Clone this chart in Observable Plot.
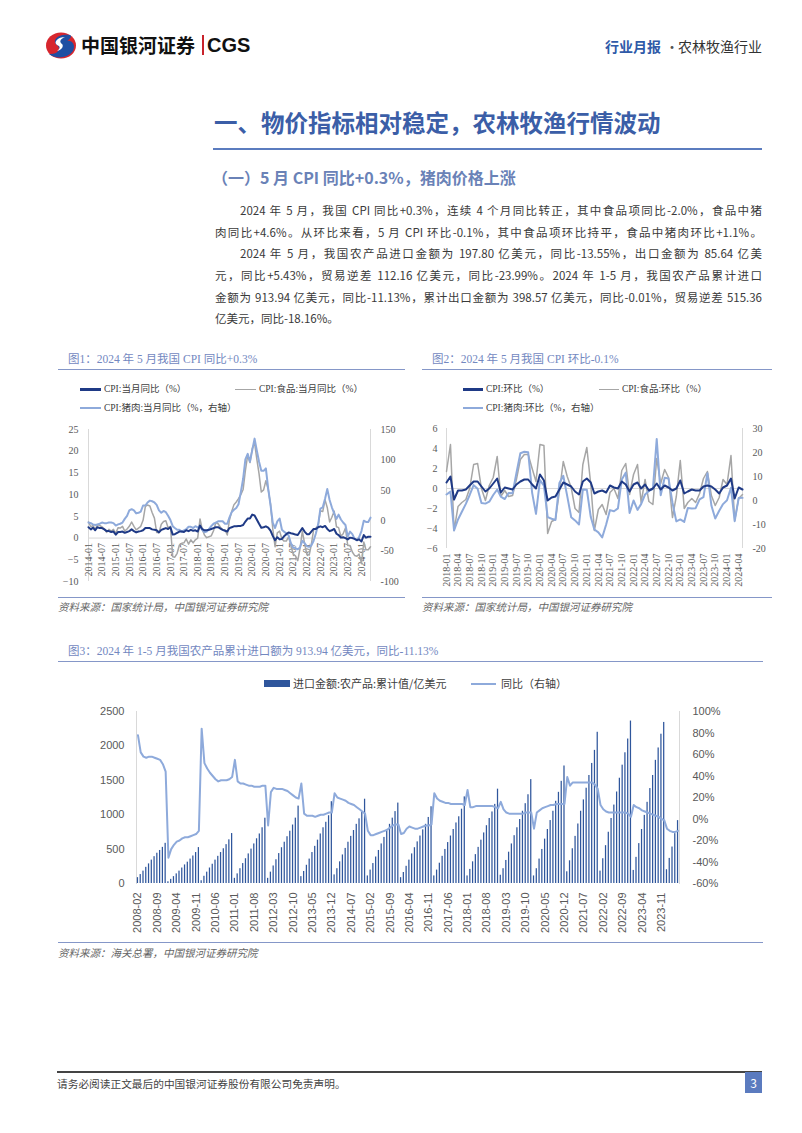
<!DOCTYPE html>
<html lang="zh-CN">
<head>
<meta charset="utf-8">
<script src="https://cdn.jsdelivr.net/npm/d3@7"></script>
<script src="https://cdn.jsdelivr.net/npm/@observablehq/plot@0.6"></script>
<style>
html,body{margin:0;padding:0;background:#fff;}
#page{position:relative;width:802px;height:1133px;overflow:hidden;background:#fff;font-family:"Noto Sans CJK SC","Noto Sans",sans-serif;color:#333;}
.a{position:absolute;white-space:nowrap;}
.para{position:absolute;font-size:11.5px;line-height:20px;height:20px;color:#3a3a3a;white-space:nowrap;text-align:justify;text-align-last:justify;}
.ctitle{position:absolute;font-family:"Liberation Serif","Noto Sans CJK SC",serif;font-size:11.5px;line-height:16px;color:#7388bf;}
.hr{position:absolute;height:1px;background:#8597c8;}
.src{position:absolute;font-size:10.5px;line-height:14px;color:#666;font-style:italic;}
.lg{position:absolute;font-family:"Liberation Serif","Noto Sans CJK SC",serif;font-size:9.5px;line-height:12px;color:#404040;}
.sw{position:absolute;}
.chart{position:absolute;}
</style>
</head>
<body>
<div id="page">
  <!-- header -->
  <svg class="a" style="left:45px;top:32px" width="32" height="27" viewBox="0 0 32 27">
    <ellipse cx="16" cy="13.5" rx="15" ry="13" fill="#d7262e"/>
    <path d="M25 3 C 14 1, 6 8, 12 13 C 17 17, 12 23, 4 22 C 10 27, 22 27, 28 19 C 31 13, 27 8, 22 9 C 26 6, 27 4, 25 3 Z" fill="#1f4fa3"/>
    <path d="M12 13 C 8 10, 13 5, 20 5 C 15 7, 14 10, 17 12 C 19 14, 17 18, 12 19 C 16 16, 15 14, 12 13 Z" fill="#fff"/>
  </svg>
  <div class="a" style="left:81px;top:33px;font-size:19px;line-height:24px;font-weight:700;color:#111;">中国银河证券</div>
  <div class="a" style="left:202px;top:35px;width:2px;height:20px;background:#c8232b;"></div>
  <div class="a" style="left:207px;top:33px;font-family:'Liberation Sans',Arial,sans-serif;font-size:20px;line-height:24px;font-weight:700;color:#111;">CGS</div>
  <div class="a" style="left:605px;top:36px;font-size:14px;line-height:20px;color:#2f5aa8;font-weight:700;">行业月报</div>
  <div class="a" style="left:665px;top:36px;font-size:14px;line-height:20px;color:#555;">·</div>
  <div class="a" style="left:678px;top:36px;font-size:14px;line-height:20px;color:#333;">农林牧渔行业</div>

  <!-- section title -->
  <div class="a" style="left:214px;top:106px;font-size:23.5px;line-height:32px;font-weight:700;color:#3b5ea7;">一、物价指标相对稳定，农林牧渔行情波动</div>
  <div class="a" style="left:213px;top:148px;width:549px;height:2px;background:#5b7cbf;"></div>
  <div class="a" style="left:212px;top:165px;font-size:16px;line-height:24px;font-weight:700;color:#6a82b7;">（一）5 月 CPI 同比+0.3%，猪肉价格上涨</div>

  <!-- paragraph -->
  <div class="para" style="left:240px;width:522px;top:200px;">2024 年 5 月，我国 CPI 同比+0.3%，连续 4 个月同比转正，其中食品项同比-2.0%，食品中猪</div>
  <div class="para" style="left:215px;width:547px;top:222px;">肉同比+4.6%。从环比来看，5 月 CPI 环比-0.1%，其中食品项环比持平，食品中猪肉环比+1.1%。</div>
  <div class="para" style="left:240px;width:522px;top:243px;">2024 年 5 月，我国农产品进口金额为 197.80 亿美元，同比-13.55%，出口金额为 85.64 亿美</div>
  <div class="para" style="left:215px;width:547px;top:265px;">元，同比+5.43%，贸易逆差 112.16 亿美元，同比-23.99%。2024 年 1-5 月，我国农产品累计进口</div>
  <div class="para" style="left:215px;width:547px;top:287px;">金额为 913.94 亿美元，同比-11.13%，累计出口金额为 398.57 亿美元，同比-0.01%，贸易逆差 515.36</div>
  <div class="para" style="left:215px;width:547px;top:308px;text-align:left;text-align-last:left;">亿美元，同比-18.16%。</div>

  <!-- chart 1 frame -->
  <div class="ctitle" style="left:68px;top:351px;">图1：2024 年 5 月我国 CPI 同比+0.3%</div>
  <div class="hr" style="left:58px;top:369px;width:347px;"></div>
  <div class="sw" style="left:80px;top:388px;width:21px;height:2.5px;background:#1f3a86;"></div>
  <div class="lg" style="left:104px;top:383px;">CPI:当月同比（%）</div>
  <div class="sw" style="left:235px;top:388.5px;width:21px;height:1.5px;background:#a6a6a6;"></div>
  <div class="lg" style="left:259px;top:383px;">CPI:食品:当月同比（%）</div>
  <div class="sw" style="left:80px;top:407px;width:21px;height:2px;background:#8eaadb;"></div>
  <div class="lg" style="left:104px;top:402px;">CPI:猪肉:当月同比（%，右轴）</div>
  <div id="c1" class="chart" style="left:30px;top:420px;"></div>
  <div class="hr" style="left:58px;top:597px;width:347px;"></div>
  <div class="src" style="left:58px;top:600px;">资料来源：国家统计局，中国银河证券研究院</div>

  <!-- chart 2 frame -->
  <div class="ctitle" style="left:432px;top:351px;">图2：2024 年 5 月我国 CPI 环比-0.1%</div>
  <div class="hr" style="left:422px;top:369px;width:350px;"></div>
  <div class="sw" style="left:463px;top:388px;width:20px;height:2.5px;background:#1f3a86;"></div>
  <div class="lg" style="left:486px;top:383px;">CPI:环比（%）</div>
  <div class="sw" style="left:599px;top:388.5px;width:20px;height:1.5px;background:#a6a6a6;"></div>
  <div class="lg" style="left:622px;top:383px;">CPI:食品:环比（%）</div>
  <div class="sw" style="left:463px;top:407px;width:20px;height:2px;background:#8eaadb;"></div>
  <div class="lg" style="left:486px;top:402px;">CPI:猪肉:环比（%，右轴）</div>
  <div id="c2" class="chart" style="left:410px;top:420px;"></div>
  <div class="hr" style="left:422px;top:597px;width:350px;"></div>
  <div class="src" style="left:422px;top:600px;">资料来源：国家统计局，中国银河证券研究院</div>

  <!-- chart 3 frame -->
  <div class="ctitle" style="left:68px;top:643px;">图3：2024 年 1-5 月我国农产品累计进口额为 913.94 亿美元，同比-11.13%</div>
  <div class="hr" style="left:58px;top:661px;width:705px;"></div>
  <div class="sw" style="left:264px;top:680px;width:26px;height:7px;background:#2f569c;"></div>
  <div class="a" style="left:293px;top:675px;font-size:11px;line-height:16px;color:#404040;">进口金额:农产品:累计值/亿美元</div>
  <div class="sw" style="left:471px;top:682.5px;width:25px;height:2px;background:#8eaadb;"></div>
  <div class="a" style="left:501px;top:675px;font-size:11px;line-height:16px;color:#404040;">同比（右轴）</div>
  <div id="c3" class="chart" style="left:30px;top:700px;"></div>
  <div class="hr" style="left:58px;top:942px;width:705px;"></div>
  <div class="src" style="left:58px;top:946px;">资料来源：海关总署，中国银河证券研究院</div>

  <!-- footer -->
  <div class="a" style="left:57px;top:1071px;width:705px;height:1.5px;background:#444;"></div>
  <div class="a" style="left:57px;top:1076px;font-size:10.7px;line-height:16px;color:#444;">请务必阅读正文最后的中国银河证券股份有限公司免责声明。</div>
  <div class="a" style="left:745px;top:1072px;width:17px;height:21px;background:#5b7bbf;color:#fff;font-size:12px;line-height:21px;text-align:center;">3</div>
</div>

<script>
// ---------------- data: Chart 1 (monthly YoY, 2014-01 .. 2024-05) ----------------
const cpiYoY = [
  2.5,2.0,2.4,1.8,2.5,2.3,2.3,2.0,1.6,1.6,1.4,1.5,
  0.8,1.4,1.4,1.5,1.2,1.4,1.6,2.0,1.6,1.3,1.5,1.6,
  1.8,2.3,2.3,2.3,2.0,1.9,1.8,1.3,1.9,2.1,2.3,2.1,
  2.5,0.8,0.9,1.2,1.5,1.5,1.4,1.8,1.6,1.9,1.7,1.8,
  1.5,2.9,2.1,1.8,1.8,1.9,2.1,2.3,2.5,2.5,2.2,1.9,
  1.7,1.5,2.3,2.5,2.7,2.7,2.8,2.8,3.0,3.8,4.5,4.5,
  5.4,5.2,4.3,3.3,2.4,2.5,2.7,2.4,1.7,0.5,-0.5,0.2,
  -0.3,-0.2,0.4,0.9,1.3,1.1,1.0,0.8,0.7,1.5,2.3,1.5,
  0.9,0.9,1.5,2.1,2.1,2.5,2.7,2.5,2.8,2.1,1.6,1.8,
  2.1,1.0,0.7,0.1,0.2,0.0,-0.3,0.1,0.0,-0.2,-0.5,-0.3,
  -0.8,0.7,0.1,0.3,0.3
];
const foodYoY = [
  3.7,2.6,2.9,2.0,3.1,2.9,2.6,2.1,1.3,2.0,1.6,2.0,
  1.1,2.4,2.3,2.7,1.6,2.1,2.7,3.7,2.7,1.9,2.3,2.7,
  4.1,7.3,7.6,7.4,5.9,4.6,1.3,1.3,3.2,3.8,4.0,2.4,
  2.7,-4.3,-4.4,-3.5,-1.6,-1.2,-1.1,-0.2,-1.4,-0.4,-1.1,-0.4,
  0.0,4.4,2.1,0.7,0.1,0.3,0.5,1.7,3.6,3.3,2.5,1.9,
  1.9,0.7,4.1,6.1,7.7,8.3,9.1,10.0,11.2,15.5,19.1,17.4,
  20.6,21.9,18.3,14.8,10.6,11.1,13.2,11.2,7.9,2.2,-2.0,1.2,
  1.6,-0.2,-0.7,-0.7,0.3,-1.7,-3.7,-4.1,-5.2,-2.4,1.6,-1.2,
  -3.8,-3.9,-1.5,1.9,2.3,2.9,6.3,6.1,8.8,7.0,3.7,4.8,
  6.2,2.6,2.4,0.4,1.0,2.3,-1.7,-1.7,-3.2,-4.0,-4.2,-3.7,
  -5.9,-0.9,-2.7,-2.7,-2.0
];
const porkYoY = [
  -3,-4,-6,-7,-6,-5,-3,-4,-4,-3,-3,-4,
  -8,-6,-5,-3,3,8,17,19,17,12,13,15,
  25,25,30,33,32,30,26,17,13,16,14,8,
  1,-9,-12,-15,-15,-18,-16,-14,-10,-10,-12,-9,
  -11,-9,-15,-19,-18,-14,-9,-5,-3,-1,-1,-1,
  -5,-5,5,14,18,21,27,47,69,101,110,97,
  116,135,116,97,82,82,86,53,26,-3,-12,-1,
  3.5,-15,-18,-21,-24,-37,-44,-45,-47,-44,-33,-37,
  -42,-43,-41,-33,-21,-6,20,22,36,52,34,22,
  12,3,10,2,-3,-7,-26,-18,-22,-30,-32,-27,
  -17,0,-2,-2,5
];

// ---------------- data: Chart 2 (monthly MoM, 2018-01 .. 2024-05) ----------------
const cpiMoM = [
  0.6,1.2,-1.1,-0.2,-0.2,-0.1,0.3,0.7,0.7,0.2,-0.3,0.0,
  0.5,1.0,-0.4,0.1,0.0,-0.1,0.4,0.7,0.9,0.9,0.4,0.0,
  1.4,0.8,-1.2,-0.9,-0.8,-0.1,0.6,0.4,0.2,-0.3,-0.6,0.7,
  1.0,0.6,-0.5,-0.3,-0.2,-0.4,0.3,0.1,0.0,0.7,0.4,-0.3,
  0.4,0.6,0.0,0.4,-0.2,0.0,0.5,-0.1,0.3,0.1,-0.2,0.0,
  0.8,-0.5,-0.3,-0.1,-0.2,-0.2,0.2,0.3,0.2,-0.1,-0.5,0.1,
  0.3,1.0,-1.0,0.1,-0.1
];
const foodMoM = [
  1.7,4.4,-4.2,-1.8,-1.4,-1.1,0.0,2.4,2.5,0.0,-1.2,0.3,
  1.1,3.2,-0.8,-0.2,-0.8,-0.7,0.9,2.9,3.4,3.4,2.0,0.7,
  4.4,4.3,-4.5,-3.3,-3.1,-0.3,2.7,1.2,0.1,-2.0,-2.4,2.4,
  4.1,0.4,-4.2,-2.1,-1.6,-2.6,-0.4,0.0,-1.0,1.8,2.5,-0.6,
  1.4,2.4,-1.4,0.9,-1.3,-1.6,3.0,0.5,1.9,1.1,-2.9,-0.8,
  2.8,-2.0,-1.4,-1.0,-1.4,-0.5,1.0,1.7,-0.7,-1.7,-0.9,0.9,
  0.4,3.3,-3.2,-1.0,-0.6
];
const porkMoM = [
  2.5,3.7,-12.5,-7.9,-4.7,-1.4,2.3,6.4,4.9,-1.0,-1.3,-0.5,
  2.3,4.6,1.6,0.6,3.1,3.0,11.4,19.7,20.3,20.1,3.2,-5.6,
  8.5,6.2,-6.9,-7.6,-8.1,7.3,10.3,1.8,-7.0,-8.3,-10.0,4.6,
  4.5,-6.9,-12.1,-13.3,-15.4,-10.0,-4.0,-4.5,-3.3,8.7,11.6,-5.2,
  0.0,-3.9,-1.5,2.5,4.0,4.8,25.6,2.2,9.5,9.2,-0.9,-8.7,
  -7.9,-8.9,-3.1,-3.3,-3.2,0.5,1.4,11.4,-2.1,-7.5,-4.3,-1.5,
  0.1,5.3,-8.6,1.0,1.1
];

// ---------------- data: Chart 3 (monthly, 2008-02 .. 2024-05) ----------------
const importCum = [
  85,130,180,235,285,340,390,440,480,525,584,
  25,60,100,140,180,225,270,310,355,400,450,522,
  40,105,165,225,280,340,395,450,505,565,635,726,
  75,140,215,290,360,430,500,575,650,720,810,949,
  75,165,255,345,435,520,600,680,760,850,950,1125,
  100,175,265,355,450,540,630,720,810,890,985,1189,
  125,215,315,415,510,600,685,770,860,940,1040,1225,
  110,195,290,385,480,575,670,760,860,950,1045,1169,
  85,160,250,340,430,520,605,690,780,860,960,1116,
  110,195,295,395,495,595,690,785,880,970,1080,1259,
  110,205,315,420,525,630,735,840,945,1040,1150,1371,
  120,215,335,455,575,695,810,930,1050,1160,1290,1510,
  110,215,355,495,645,785,915,1050,1195,1325,1485,1708,
  170,330,505,685,865,1050,1215,1385,1570,1745,1935,2198,
  180,360,550,745,945,1140,1330,1530,1720,1900,2100,2361,
  190,380,580,785,990,1180,1380,1570,1790,1970,2170,2341,
  200,365,530,725,914
];
const importYoY = [
  78,62,58,57,58,58,57,56,55,51,44,
  -36,-28,-24,-21,-20,-18,-17,-17,-16,-15,-14,-11,
  84,52,47,43,40,37,35,36,36,36,37,39,
  55,35,33,33,32,31,31,30,30,30,31,31,
  -6,25,29,28,28,28,27,26,24,22,20,19,
  33,5,3,3,3,2,3,4,4,5,6,6,
  24,20,19,18,17,15,14,13,11,9,7,5,
  -11,-15,-15,-14,-13,-12,-11,-10,-8,-6,-5,-5,
  -14,-13,-9,-7,-8,-9,-9,-8,-7,-6,-6,-5,
  24,19,17,16,15,15,14,14,14,14,14,13,
  27,11,11,12,12,12,12,12,12,12,11,10,
  16,9,6,5,5,5,5,5,5,6,6,6,
  -9,6,8,10,11,12,13,13,14,14,14,14,
  39,31,34,34,34,34,34,34,34,34,32,28,
  13,9,7,6,6,6,6,6,6,6,5,2,
  13,11,10,8,7,6,5,4,3,2,0,-1,
  -9,-11,-12,-12,-11
];

// axis tick values
const leftTicks1 = [-10,-5,0,5,10,15,20,25];
const rightTicks1 = [-100,-50,0,50,100,150];
const leftTicks2 = [-6,-4,-2,0,2,4,6];
const rightTicks2 = [-20,-10,0,10,20,30];
const leftTicks3 = [0,500,1000,1500,2000,2500];
const rightTicks3 = [-60,-40,-20,0,20,40,60,80,100];

// ---------------- helpers ----------------
const fmtM = d3.utcFormat("%Y-%m");
const monthSeq = (y, m, n) => d3.range(n).map(i => new Date(Date.UTC(y, m - 1 + i, 1)));
const dual = (L, R) => ({
  toL: r => L[0] + (r - R[0]) * (L[1] - L[0]) / (R[1] - R[0]),
  toR: l => R[0] + (l - L[0]) * (R[1] - R[0]) / (L[1] - L[0])
});
const serifStyle = {fontFamily: '"Liberation Serif", serif', fontSize: "10px", color: "#595959", background: "none", overflow: "visible"};
const NAVY = "#1f3a86", GRAY = "#a6a6a6", LBLUE = "#8eaadb", AXIS = "#d9d9d9";

// ---------------- Chart 1 ----------------
{
  const L = [-10, 25], R = [-100, 150], t = dual(L, R);
  const m = monthSeq(2014, 1, cpiYoY.length);
  const rows = m.map((d, i) => ({d, cpi: cpiYoY[i], food: foodYoY[i], pork: porkYoY[i]}));
  const ticks = m.filter((d, i) => i % 6 === 0);
  const chart = Plot.plot({
    width: 375, height: 170,
    marginLeft: 58, marginRight: 35, marginTop: 9, marginBottom: 9,
    style: serifStyle,
    x: {type: "utc", domain: [m[0], m[m.length - 1]], axis: null},
    y: {domain: L, axis: null},
    marks: [
      Plot.ruleY([0], {stroke: AXIS}),
      Plot.ruleX([m[0]], {stroke: AXIS}),
      Plot.ruleX([m[m.length - 1]], {stroke: AXIS}),
      Plot.axisY({anchor: "left", ticks: leftTicks1, tickSize: 0, tickPadding: 10, label: null}),
      Plot.axisY({anchor: "right", ticks: rightTicks1.map(t.toL), tickFormat: l => String(Math.round(t.toR(l))), tickSize: 0, tickPadding: 10, label: null}),
      Plot.text(ticks, {x: d => d, y: () => 0, text: d => fmtM(d), rotate: -90, textAnchor: "end", dy: 5, fill: "#595959"}),
      Plot.line(rows, {x: "d", y: "food", stroke: GRAY, strokeWidth: 1.5}),
      Plot.line(rows, {x: "d", y: d => t.toL(d.pork), stroke: LBLUE, strokeWidth: 2}),
      Plot.line(rows, {x: "d", y: "cpi", stroke: NAVY, strokeWidth: 2})
    ]
  });
  document.getElementById("c1").append(chart);
}

// ---------------- Chart 2 ----------------
{
  const L = [-6, 6], R = [-20, 30], t = dual(L, R);
  const m = monthSeq(2018, 1, cpiMoM.length);
  const rows = m.map((d, i) => ({d, cpi: cpiMoM[i], food: foodMoM[i], pork: porkMoM[i]}));
  const ticks = m.filter((d, i) => i % 3 === 0);
  const chart = Plot.plot({
    width: 375, height: 175,
    marginLeft: 36, marginRight: 43, marginTop: 8, marginBottom: 47,
    style: serifStyle,
    x: {type: "utc", domain: [m[0], m[m.length - 1]], axis: null},
    y: {domain: L, axis: null},
    marks: [
      Plot.ruleY([0], {stroke: AXIS}),
      Plot.ruleX([m[0]], {stroke: AXIS}),
      Plot.ruleX([m[m.length - 1]], {stroke: AXIS}),
      Plot.axisY({anchor: "left", ticks: leftTicks2, tickSize: 0, tickPadding: 9, label: null}),
      Plot.axisY({anchor: "right", ticks: rightTicks2.map(t.toL), tickFormat: l => String(Math.round(t.toR(l))), tickSize: 0, tickPadding: 10, label: null}),
      Plot.axisX({anchor: "bottom", ticks: ticks, tickFormat: fmtM, tickRotate: -90, tickSize: 0, tickPadding: 5, label: null}),
      Plot.line(rows, {x: "d", y: "food", stroke: GRAY, strokeWidth: 1.5}),
      Plot.line(rows, {x: "d", y: d => t.toL(d.pork), stroke: LBLUE, strokeWidth: 2}),
      Plot.line(rows, {x: "d", y: "cpi", stroke: NAVY, strokeWidth: 2})
    ]
  });
  document.getElementById("c2").append(chart);
}

// ---------------- Chart 3 ----------------
{
  const L = [0, 2500], R = [-60, 100], t = dual(L, R);
  const labels = monthSeq(2008, 2, importCum.length).map(fmtM);
  const rows = labels.map((m, i) => ({m, v: importCum[i], yoy: importYoY[i]}));
  const ticks = labels.filter((d, i) => i % 7 === 0);
  const chart = Plot.plot({
    width: 740, height: 240,
    marginLeft: 106, marginRight: 91, marginTop: 11, marginBottom: 57,
    style: {fontFamily: '"Liberation Sans Narrow", "Liberation Sans", sans-serif', fontSize: "11px", color: "#595959", background: "none", overflow: "visible"},
    x: {type: "band", domain: labels, paddingInner: 0.55, paddingOuter: 0.3, axis: null},
    y: {domain: L, axis: null},
    marks: [
      Plot.frame({anchor: "left", stroke: AXIS}),
      Plot.frame({anchor: "right", stroke: AXIS}),
      Plot.axisY({anchor: "left", ticks: leftTicks3, tickFormat: d3.format("d"), tickSize: 0, tickPadding: 12, label: null}),
      Plot.axisY({anchor: "right", ticks: rightTicks3.map(t.toL), tickFormat: l => Math.round(t.toR(l)) + "%", tickSize: 0, tickPadding: 13, label: null}),
      Plot.axisX({anchor: "bottom", ticks: ticks, tickRotate: -90, tickSize: 0, tickPadding: 9, label: null}),
      Plot.barY(rows, {x: "m", y: "v", fill: "#2f569c"}),
      Plot.line(rows, {x: "m", y: d => t.toL(d.yoy), stroke: LBLUE, strokeWidth: 2})
    ]
  });
  document.getElementById("c3").append(chart);
}
</script>
</body>
</html>
